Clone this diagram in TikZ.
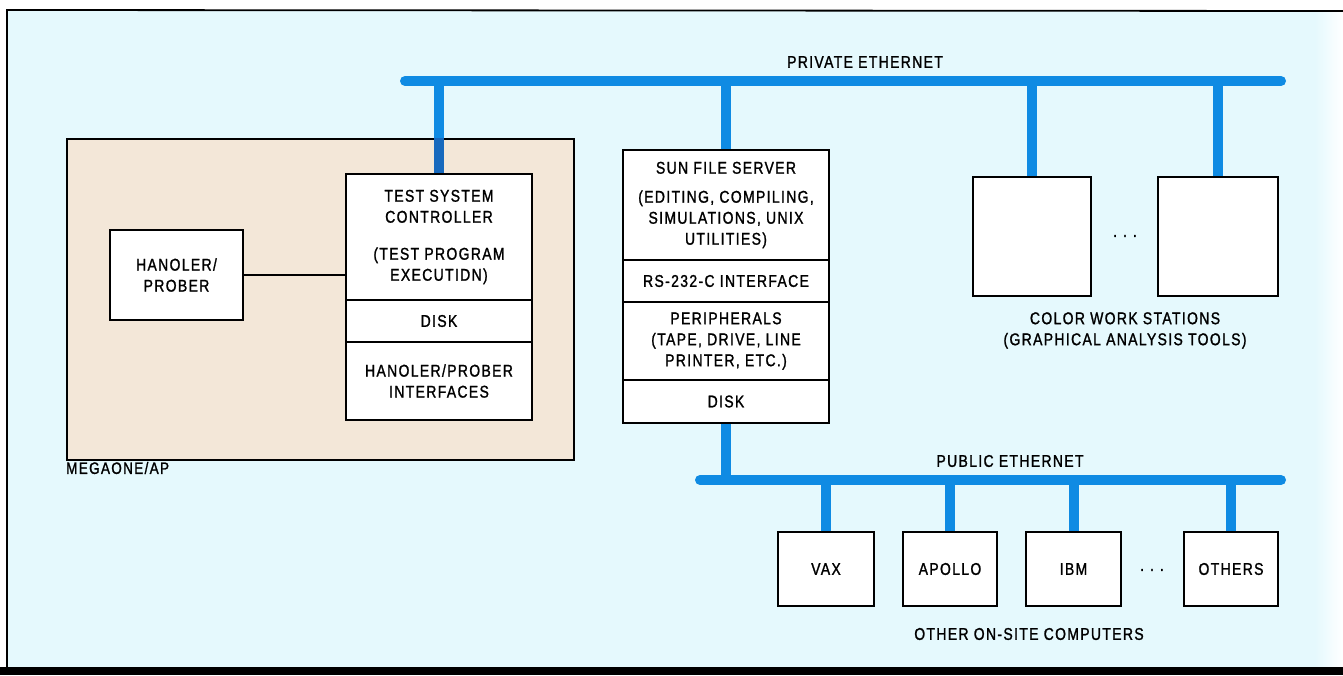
\documentclass[tikz,border=0pt]{standalone}
\usepackage{fontspec}
\setmainfont{Liberation Sans}[FakeStretch=0.82,LetterSpace=8,FakeBold=1.3]
\definecolor{bgc}{HTML}{E5F9FD}
\definecolor{beige}{HTML}{F3E7D8}
\definecolor{netblue}{HTML}{0F8BE3}
\definecolor{darkblue}{HTML}{1769BD}
\newcommand{\diagfont}{\fontsize{17}{21}\selectfont}
\tikzset{
  box/.style={draw=black, line width=1.8pt, fill=white, inner sep=0pt, align=center, font=\diagfont},
  lbl/.style={inner sep=0pt, align=center, font=\diagfont},
  bus/.style={line width=10pt, draw=netblue, line cap=round},
  drop/.style={line width=10pt, draw=netblue},
}
\begin{document}
\begin{tikzpicture}[x=1pt,y=-1pt]
\useasboundingbox (0,0) rectangle (1343,675);
% background and frame
\fill[bgc] (7,10) rectangle (1343,667);
\shade[left color=bgc, right color=white] (1315,10) rectangle (1343,667);
\draw[line width=1.8pt] (1343,11) -- (7,10) -- (7,667);
\fill[black] (0,667) rectangle (1343,675);

% MegaOne enclosure
\node[draw=black, line width=1.8pt, fill=beige, minimum width=507pt, minimum height=321pt, inner sep=0pt] (mega) at (320.5,299.5) {};
\node[lbl, anchor=west, font=\fontsize{16.5}{18}\selectfont] (megalbl) at (66,468) {MEGAONE/AP};

% buses
\coordinate (pbl) at (405,81);
\coordinate (pbr) at (1281,81);
\coordinate (ubl) at (700,480);
\coordinate (ubr) at (1281,480);
\draw[bus] (pbl) -- (pbr);
\draw[bus] (ubl) -- (ubr);
\node[lbl] (privlbl) at (865,62) {PRIVATE ETHERNET};
\node[lbl] (publbl) at (1010,461) {PUBLIC ETHERNET};

% test system stack
\node[box, minimum width=186pt, minimum height=126pt] (tsc) at (439,237) {TEST SYSTEM\\CONTROLLER\\[16pt](TEST PROGRAM\\EXECUTIDN)};
\node[box, minimum width=186pt, minimum height=42pt] (disk1) at (439,321) {DISK};
\node[box, minimum width=186pt, minimum height=78pt] (hpi) at (439,381) {HANOLER/PROBER\\INTERFACES};
\node[box, minimum width=133pt, minimum height=90pt] (hp) at (176.5,275) {HANOLER/\\PROBER};
\draw[line width=1.5pt] (hp.east) -- (hp.east -| tsc.west);
\draw[drop] (tsc.north) -- (tsc.north |- pbl);
\draw[drop, draw=darkblue] (tsc.north) -- (tsc.north |- mega.north);

% sun file server stack
\node[box, minimum width=206pt, minimum height=110pt] (sun) at (726,205) {SUN FILE SERVER\\[8pt](EDITING, COMPILING,\\SIMULATIONS, UNIX\\UTILITIES)};
\node[box, minimum width=206pt, minimum height=42pt] (rs) at (726,281) {RS-232-C INTERFACE};
\node[box, minimum width=206pt, minimum height=78pt] (peri) at (726,341) {PERIPHERALS\\(TAPE, DRIVE, LINE\\PRINTER, ETC.)};
\node[box, minimum width=206pt, minimum height=43pt] (disk2) at (726,401.5) {DISK};
\draw[drop] (sun.north) -- (sun.north |- pbl);
\draw[drop] (disk2.south) -- (disk2.south |- ubl);

% color workstations
\node[box, minimum width=118pt, minimum height=119pt] (ws1) at (1032,236.5) {};
\node[box, minimum width=120pt, minimum height=119pt] (ws2) at (1218,236.5) {};
\node[lbl] (wsdots) at (1125,236) {.\hspace{6pt}.\hspace{6pt}.};
\draw[drop] (ws1.north) -- (ws1.north |- pbl);
\draw[drop] (ws2.north) -- (ws2.north |- pbl);
\node[lbl] (wslbl) at (1125,330.5) {COLOR WORK STATIONS\\(GRAPHICAL ANALYSIS TOOLS)};

% other on-site computers
\node[box, minimum width=96pt, minimum height=74pt] (vax) at (826,569) {VAX};
\node[box, minimum width=94pt, minimum height=74pt] (apollo) at (950,569) {APOLLO};
\node[box, minimum width=95pt, minimum height=74pt] (ibm) at (1073.5,569) {IBM};
\node[box, minimum width=94pt, minimum height=74pt] (others) at (1231,569) {OTHERS};
\node[lbl] (pcdots) at (1152,570) {.\hspace{6pt}.\hspace{6pt}.};
\foreach \n in {vax,apollo,ibm,others}{\draw[drop] (\n.north) -- (\n.north |- ubl);}
\node[lbl] (pclbl) at (1029,634) {OTHER ON-SITE COMPUTERS};
\end{tikzpicture}
\end{document}
